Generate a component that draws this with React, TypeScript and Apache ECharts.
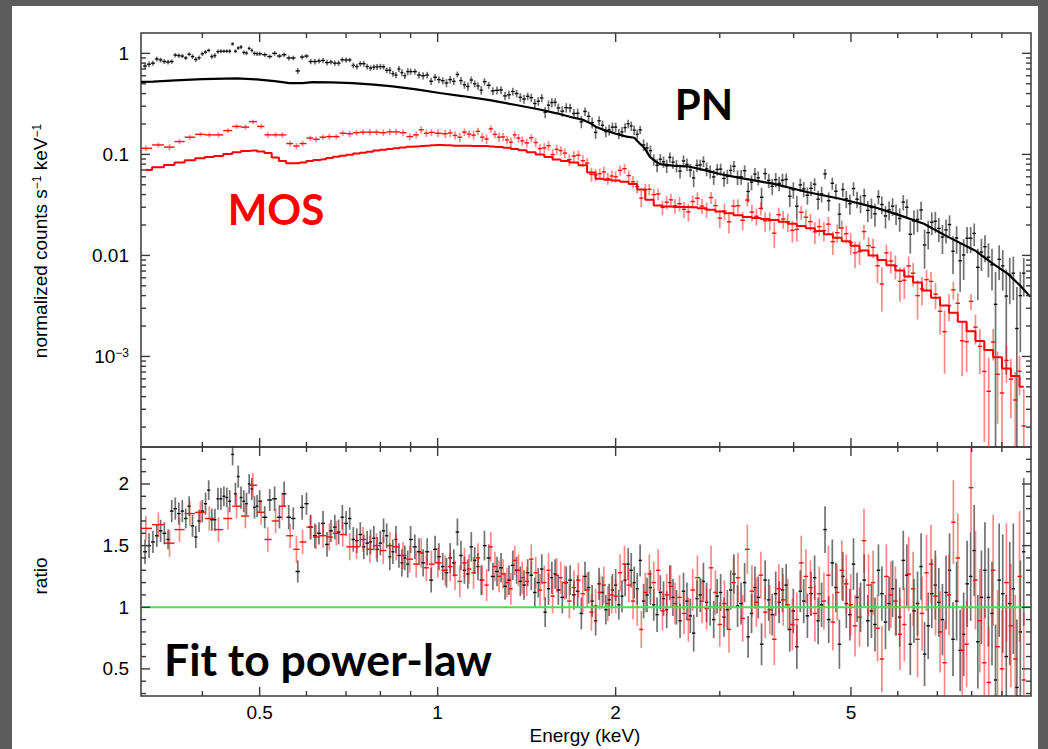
import React, { useEffect, useRef } from "react";
import * as echarts from "echarts";

// ---------- tick positions ----------
const energyTicksMajor = [0.5, 1, 2, 5];
const energyTicksMinor = [0.4, 0.6, 0.7, 0.8, 0.9, 3, 4, 6, 7, 8, 9];
const countTicksMajor = [0.001, 0.01, 0.1, 1];
const countTicksMinor = [
  0.0002, 0.0003, 0.0004, 0.0005, 0.0006, 0.0007, 0.0008, 0.0009,
  0.002, 0.003, 0.004, 0.005, 0.006, 0.007, 0.008, 0.009,
  0.02, 0.03, 0.04, 0.05, 0.06, 0.07, 0.08, 0.09,
  0.2, 0.3, 0.4, 0.5, 0.6, 0.7, 0.8, 0.9,
];
const ratioTicksMajor = [0.5, 1, 1.5, 2];
const ratioTicksMinor = [0.3, 0.4, 0.6, 0.7, 0.8, 0.9, 1.1, 1.2, 1.3, 1.4, 1.6, 1.7, 1.8, 1.9, 2.1, 2.2];

// ---------- PN (black) ----------
const pnEnergy = [
  0.32, 0.325, 0.33, 0.335, 0.34, 0.345, 0.35, 0.355, 0.36, 0.365, 0.37, 0.375, 0.38, 0.385, 0.39, 0.395, 0.40, 0.405, 0.41, 0.415,
  0.42, 0.425, 0.43, 0.435, 0.44, 0.445, 0.45, 0.455, 0.46, 0.465, 0.47, 0.475, 0.48, 0.485, 0.49, 0.495, 0.50,
  0.51, 0.52, 0.53, 0.54, 0.55, 0.56, 0.57, 0.58, 0.59, 0.60, 0.61, 0.62, 0.63, 0.64, 0.65, 0.66, 0.67, 0.68, 0.69, 0.70,
  0.71, 0.72, 0.73, 0.74, 0.75, 0.76, 0.77, 0.78, 0.79, 0.80, 0.81, 0.82, 0.83, 0.84, 0.85, 0.86, 0.87, 0.88, 0.89, 0.90,
  0.915, 0.93, 0.945, 0.96, 0.975, 0.99, 1.005,
  1.02, 1.035, 1.05, 1.065, 1.08, 1.095, 1.11, 1.125, 1.14, 1.155, 1.17, 1.185, 1.20, 1.22, 1.24, 1.26, 1.28, 1.30, 1.32, 1.34,
  1.36, 1.38, 1.40, 1.42, 1.44, 1.46, 1.48, 1.50,
  1.52, 1.54, 1.56, 1.58, 1.60, 1.625, 1.65, 1.675, 1.70, 1.725, 1.75, 1.775, 1.80, 1.825, 1.85, 1.875, 1.90, 1.925, 1.95, 1.975,
  2.00, 2.025, 2.05, 2.075, 2.10, 2.125, 2.15, 2.175, 2.20,
  2.23, 2.26, 2.29, 2.32, 2.35, 2.38, 2.41, 2.44, 2.47, 2.50, 2.535, 2.57, 2.605, 2.64, 2.675, 2.71, 2.745, 2.78, 2.815, 2.85,
  2.89, 2.93, 2.97, 3.01,
  3.05, 3.09, 3.13, 3.17, 3.215, 3.26, 3.305, 3.35, 3.395, 3.44, 3.485, 3.53, 3.58, 3.63, 3.68, 3.73, 3.78, 3.83, 3.885, 3.94,
  3.995, 4.05, 4.105, 4.16, 4.22, 4.28, 4.34, 4.40, 4.46, 4.52,
  4.585, 4.65, 4.715, 4.78, 4.845, 4.91, 4.98, 5.05, 5.12, 5.19, 5.265, 5.34, 5.415, 5.49, 5.565, 5.64, 5.72, 5.80, 5.88, 5.96,
  6.045, 6.13, 6.215, 6.30, 6.39, 6.48, 6.57, 6.66, 6.755, 6.85, 6.945, 7.04, 7.14, 7.24, 7.34, 7.44,
  7.545, 7.65, 7.755, 7.86, 7.97, 8.08, 8.195, 8.31, 8.425, 8.54,
  8.66, 8.78, 8.905, 9.03, 9.155, 9.28, 9.41, 9.54, 9.67, 9.80,
];
const pnFlux = [
  0.75, 0.78, 0.80, 0.88, 0.86, 0.83, 0.82, 0.83, 0.96, 0.95, 0.94, 0.90, 0.98, 0.93, 0.87, 0.905, 0.99, 1.03, 1.07, 0.93,
  0.95, 1.04, 1.05, 1.05, 1.05, 1.05, 1.24, 1.05, 1.13, 1.155, 1.02, 1.007, 1.12, 1.07, 1.00, 0.99, 0.99,
  0.97, 0.93, 1.00, 0.94, 0.97, 0.90, 0.90, 0.67, 0.92, 0.94, 0.83, 0.83, 0.84, 0.85, 0.81, 0.82, 0.80, 0.80, 0.865, 0.86,
  0.86, 0.76, 0.74, 0.79, 0.79, 0.74, 0.715, 0.73, 0.735, 0.74, 0.735, 0.68, 0.68, 0.63, 0.61, 0.70, 0.645, 0.60, 0.66, 0.66,
  0.66, 0.61, 0.60, 0.61, 0.53, 0.58, 0.55,
  0.536, 0.509, 0.550, 0.528, 0.618, 0.538, 0.488, 0.470, 0.545, 0.500, 0.476, 0.432, 0.525, 0.483, 0.425, 0.431, 0.434, 0.379, 0.389, 0.419,
  0.400, 0.367, 0.353, 0.376, 0.364, 0.319, 0.336, 0.362,
  0.261, 0.307, 0.326, 0.328, 0.288, 0.268, 0.290, 0.288, 0.254, 0.255, 0.210, 0.266, 0.238, 0.206, 0.165, 0.215, 0.194, 0.168, 0.175, 0.186,
  0.186, 0.160, 0.167, 0.184, 0.201, 0.191, 0.174, 0.158, 0.175,
  0.124, 0.116, 0.109, 0.0887, 0.0780, 0.0896, 0.0845, 0.0769, 0.0936, 0.0837, 0.0771, 0.0684, 0.0862, 0.0796, 0.0699, 0.0585, 0.0779, 0.0787, 0.0851, 0.0718,
  0.0676, 0.0599, 0.0709, 0.0715,
  0.0578, 0.0606, 0.0694, 0.0762, 0.0597, 0.0600, 0.0689, 0.0430, 0.0530, 0.0638, 0.0586, 0.0376, 0.0645, 0.0553, 0.0483, 0.0562, 0.0517, 0.0556, 0.0565, 0.0385,
  0.0447, 0.0307, 0.0499, 0.0455, 0.0394, 0.0461, 0.0507, 0.0360, 0.0406, 0.0641,
  0.0347, 0.0517, 0.0432, 0.0256, 0.0449, 0.0364, 0.0325, 0.0459, 0.0360, 0.0327, 0.0390, 0.0279, 0.0298, 0.0258, 0.0381, 0.0319, 0.0246, 0.0282, 0.0307, 0.0260,
  0.0232, 0.0337, 0.0300, 0.0162, 0.0219, 0.0227, 0.0282, 0.0127, 0.0168, 0.0213, 0.0218, 0.0185, 0.0152, 0.0179, 0.0202, 0.0110,
  0.0149, 0.00884, 0.0101, 0.0148, 0.0148, 0.0165, 0.00763, 0.0108, 0.0122, 0.00961,
  0.00808, 0.00328, 0.00915, 0.00788, 0.00396, 0.00639, 0.00667, 0.00189, 0.00400, 0.00667,
];
const pnRatio = [
  1.45, 1.50, 1.53, 1.58, 1.62, 1.60, 1.55, 1.78, 1.80, 1.76, 1.78, 1.72, 1.82, 1.66, 1.57, 1.70, 1.78, 1.84, 1.95, 1.71,
  1.71, 1.88, 1.88, 1.90, 1.89, 1.86, 2.24, 1.92, 2.06, 1.89, 1.86, 1.84, 2.00, 1.96, 1.81, 1.82, 1.86,
  1.73, 1.87, 1.88, 1.73, 1.92, 1.73, 1.72, 1.29, 1.81, 1.84, 1.65, 1.58, 1.60, 1.68, 1.51, 1.62, 1.65, 1.61, 1.73, 1.68,
  1.72, 1.55, 1.54, 1.59, 1.49, 1.52, 1.53, 1.56, 1.47, 1.52, 1.62, 1.58, 1.41, 1.45, 1.55, 1.42, 1.36, 1.40, 1.35, 1.55,
  1.49, 1.45, 1.36, 1.45, 1.22, 1.47, 1.41,
  1.33, 1.28, 1.40, 1.36, 1.61, 1.42, 1.30, 1.27, 1.49, 1.38, 1.33, 1.22, 1.50, 1.40, 1.25, 1.29, 1.32, 1.17, 1.22, 1.34,
  1.30, 1.21, 1.18, 1.28, 1.26, 1.12, 1.20, 1.31,
  0.96, 1.15, 1.24, 1.27, 1.14, 1.08, 1.20, 1.22, 1.10, 1.13, 0.95, 1.25, 1.16, 1.05, 0.89, 1.19, 1.12, 0.98, 1.06, 1.14,
  1.18, 1.02, 1.09, 1.22, 1.35, 1.30, 1.20, 1.15, 1.38,
  1.05, 1.10, 1.16, 1.02, 0.94, 1.12, 1.07, 0.98, 1.20, 1.08, 1.00, 0.89, 1.13, 1.05, 0.93, 0.79, 1.07, 1.10, 1.21, 1.04,
  1.00, 0.90, 1.09, 1.12,
  0.92, 0.98, 1.14, 1.27, 1.01, 1.03, 1.20, 0.76, 0.95, 1.16, 1.08, 0.70, 1.22, 1.06, 0.94, 1.11, 1.04, 1.14, 1.18, 0.82,
  0.97, 0.68, 1.13, 1.05, 0.93, 1.11, 1.24, 0.89, 1.02, 1.63,
  0.90, 1.36, 1.16, 0.70, 1.25, 1.03, 0.94, 1.35, 1.08, 1.00, 1.22, 0.89, 0.97, 0.86, 1.30, 1.11, 0.88, 1.03, 1.15, 1.00,
  0.92, 1.38, 1.26, 0.70, 0.97, 1.03, 1.33, 0.62, 0.85, 1.11, 1.18, 1.04, 0.90, 1.12, 1.30, 0.74,
  1.05, 0.65, 0.78, 1.19, 1.25, 1.46, 0.72, 1.08, 1.30, 1.08,
  0.95, 0.41, 1.22, 1.11, 0.60, 1.03, 1.15, 0.35, 0.80, 1.45,
];
const pnRatioErr = [
  0.10, 0.10, 0.09, 0.09, 0.09, 0.09, 0.08, 0.09, 0.09, 0.09, 0.09, 0.08, 0.08, 0.09, 0.09, 0.09, 0.09, 0.09, 0.08, 0.09,
  0.09, 0.09, 0.09, 0.08, 0.08, 0.09, 0.09, 0.09, 0.09, 0.09, 0.09, 0.09, 0.08, 0.09, 0.09, 0.09, 0.09,
  0.09, 0.09, 0.10, 0.09, 0.10, 0.10, 0.09, 0.09, 0.10, 0.09, 0.10, 0.10, 0.09, 0.10, 0.10, 0.09, 0.10, 0.10, 0.10, 0.10,
  0.09, 0.10, 0.10, 0.10, 0.10, 0.10, 0.10, 0.10, 0.10, 0.10,
  0.10, 0.10, 0.11, 0.10, 0.11, 0.10, 0.11, 0.10, 0.11, 0.11, 0.10, 0.11, 0.11, 0.11, 0.10, 0.11, 0.11,
  0.11, 0.12, 0.12, 0.11, 0.11, 0.12, 0.11, 0.12, 0.12, 0.11, 0.11, 0.12, 0.12, 0.11, 0.11, 0.12, 0.12, 0.11, 0.12, 0.12,
  0.11, 0.12, 0.12, 0.11, 0.12, 0.12, 0.12, 0.12,
  0.12, 0.13, 0.13, 0.12, 0.12, 0.13, 0.13, 0.12, 0.12, 0.13, 0.13, 0.12, 0.13, 0.13, 0.12, 0.13, 0.13, 0.12, 0.13, 0.13,
  0.13, 0.12, 0.13, 0.13, 0.13, 0.14, 0.13, 0.13, 0.13,
  0.14, 0.14, 0.14, 0.13, 0.14, 0.14, 0.14, 0.15, 0.14, 0.15, 0.14, 0.14, 0.15, 0.15, 0.14, 0.15, 0.15, 0.14, 0.15, 0.16,
  0.15, 0.15, 0.14, 0.15,
  0.16, 0.16, 0.16, 0.16, 0.17, 0.17, 0.16, 0.17, 0.16, 0.17, 0.17, 0.17, 0.16, 0.17, 0.17, 0.18, 0.17, 0.18, 0.17, 0.18,
  0.18, 0.18, 0.17, 0.18, 0.18, 0.18, 0.18, 0.19, 0.18, 0.19,
  0.19, 0.19, 0.20, 0.20, 0.20, 0.20, 0.21, 0.21, 0.20, 0.20, 0.21, 0.21, 0.22, 0.22, 0.21, 0.22, 0.22, 0.22, 0.23, 0.23,
  0.24, 0.24, 0.25, 0.25, 0.26, 0.26, 0.27, 0.26, 0.27, 0.28, 0.28, 0.28, 0.29, 0.30, 0.30, 0.30,
  0.32, 0.33, 0.34, 0.35, 0.36, 0.37, 0.38, 0.38, 0.39, 0.40,
  0.42, 0.45, 0.46, 0.48, 0.50, 0.50, 0.53, 0.55, 0.58, 0.60,
];
const pnModelEnergy = [
  0.315, 0.33, 0.36, 0.40, 0.457, 0.494, 0.53, 0.562, 0.59, 0.615, 0.66, 0.718, 0.78, 0.839, 0.92,
  1.008, 1.1, 1.225, 1.35, 1.488, 1.59, 1.692, 1.76, 1.808, 1.85, 1.902, 2.0, 2.088, 2.15, 2.197,
  2.24, 2.284, 2.33, 2.375, 2.5, 2.669, 2.85, 3.0, 3.243, 3.69, 4.211, 4.79, 5.467, 6.05, 6.643,
  7.23, 8.102, 8.7, 9.215, 9.66, 10.05,
];
const pnModel = [
  0.521, 0.525, 0.54, 0.555, 0.565, 0.552, 0.53, 0.507, 0.508, 0.519, 0.515, 0.507, 0.49, 0.471, 0.44,
  0.405, 0.378, 0.344, 0.31, 0.278, 0.255, 0.232, 0.22, 0.205, 0.188, 0.176, 0.160, 0.150, 0.146, 0.128,
  0.115, 0.095, 0.086, 0.080, 0.0775, 0.0755, 0.069, 0.064, 0.0585, 0.0513, 0.0424, 0.0364, 0.0301, 0.0249, 0.0206,
  0.0157, 0.0112, 0.00826, 0.00656, 0.00503, 0.00391,
];

// ---------- MOS (red) ----------
const mosEnergy = [
  0.321, 0.337, 0.352, 0.366, 0.381, 0.397, 0.411, 0.426, 0.442, 0.457, 0.473, 0.487, 0.503, 0.516, 0.532, 0.546,
  0.563, 0.577, 0.591, 0.609, 0.623, 0.640, 0.656, 0.674, 0.691, 0.710, 0.729, 0.748, 0.768, 0.788, 0.809, 0.830,
  0.851, 0.874, 0.897, 0.920, 0.938, 0.957, 0.976, 1.001,
  1.03, 1.05, 1.07, 1.09, 1.11, 1.13, 1.15, 1.17, 1.19, 1.21, 1.23, 1.25, 1.27, 1.29, 1.31, 1.33, 1.35, 1.37, 1.39, 1.415,
  1.44, 1.465, 1.49,
  1.515, 1.54, 1.565, 1.59, 1.615, 1.64, 1.67, 1.70, 1.73, 1.76, 1.79, 1.82, 1.85, 1.88, 1.91, 1.94, 1.97, 2.00, 2.035, 2.07,
  2.105, 2.14, 2.175, 2.21,
  2.245, 2.28, 2.32, 2.36, 2.40, 2.44, 2.48, 2.52, 2.565, 2.61, 2.655, 2.70, 2.75, 2.80, 2.85, 2.90, 2.95, 3.00,
  3.055, 3.11, 3.165, 3.22, 3.28, 3.34, 3.40, 3.46, 3.52, 3.58, 3.645, 3.71, 3.775, 3.84, 3.91, 3.98,
  4.05, 4.12, 4.195, 4.27, 4.345, 4.42, 4.50, 4.58, 4.66, 4.74, 4.825, 4.91,
  4.995, 5.08, 5.17, 5.26, 5.355, 5.45, 5.545, 5.64, 5.74, 5.84,
  5.945, 6.05, 6.155, 6.26, 6.37, 6.48, 6.595, 6.71, 6.83, 6.95,
  7.075, 7.20, 7.325, 7.45, 7.58, 7.71, 7.845, 7.98,
  8.12, 8.26, 8.405, 8.55, 8.70, 8.85, 9.005, 9.16, 9.32, 9.48, 9.64, 9.80,
];
const mosFlux = [
  0.115, 0.124, 0.118, 0.134, 0.148, 0.158, 0.156, 0.156, 0.172, 0.189, 0.186, 0.211, 0.189, 0.156, 0.156, 0.156,
  0.128, 0.121, 0.128, 0.145, 0.141, 0.148, 0.150, 0.150, 0.162, 0.160, 0.164, 0.166, 0.166, 0.166, 0.164, 0.167,
  0.167, 0.164, 0.150, 0.156, 0.175, 0.162, 0.165, 0.162,
  0.160, 0.163, 0.154, 0.148, 0.166, 0.159, 0.155, 0.169, 0.148, 0.142, 0.179, 0.158, 0.148, 0.149, 0.139, 0.132, 0.156, 0.145, 0.136, 0.130,
  0.146, 0.131, 0.114,
  0.116, 0.122, 0.0997, 0.112, 0.109, 0.103, 0.0887, 0.0963, 0.0982, 0.0866, 0.0821, 0.0634, 0.0626, 0.0644, 0.0670, 0.0577, 0.0611, 0.0600, 0.0695, 0.0722,
  0.0617, 0.0536, 0.0480, 0.0369,
  0.0448, 0.0451, 0.0400, 0.0406, 0.0299, 0.0336, 0.0355, 0.0310, 0.0325, 0.0286, 0.0270, 0.0342, 0.0368, 0.0308, 0.0285, 0.0374, 0.0311, 0.0234,
  0.0275, 0.0215, 0.0307, 0.0310, 0.0223, 0.0353, 0.0268, 0.0244, 0.0292, 0.0220, 0.0221, 0.0166, 0.0253, 0.0229, 0.0215, 0.0177,
  0.0181, 0.0267, 0.0239, 0.0216, 0.0171, 0.0193, 0.0176, 0.0204, 0.0137, 0.0168, 0.0187, 0.0164,
  0.0134, 0.0106, 0.0109, 0.0172, 0.0125, 0.0120, 0.00789, 0.00522, 0.0106, 0.00880,
  0.00788, 0.00554, 0.00568, 0.00787, 0.00667, 0.00400, 0.00466, 0.00576, 0.00554, 0.00414,
  0.00280, 0.00176, 0.00319, 0.00456, 0.00336, 0.00143, 0.00140, 0.00351,
  0.00195, 0.00126, 0.000710, 0.000452, 0.00139, 0.000666, 0.000435, 0.000912, 0.000595, 0.000371, 0.000713, 0.000205,
];
const mosRatio = [
  1.64, 1.67, 1.52, 1.63, 1.76, 1.77, 1.72, 1.63, 1.72, 1.82, 1.74, 1.99, 1.77, 1.55, 1.70, 1.82,
  1.58, 1.47, 1.53, 1.65, 1.57, 1.58, 1.57, 1.60, 1.59, 1.49, 1.49, 1.55, 1.47, 1.50, 1.46, 1.50,
  1.49, 1.42, 1.39, 1.35, 1.44, 1.32, 1.35, 1.36,
  1.30, 1.33, 1.26, 1.21, 1.36, 1.31, 1.28, 1.40, 1.22, 1.18, 1.49, 1.33, 1.25, 1.27, 1.20, 1.15, 1.38, 1.30, 1.24, 1.21,
  1.39, 1.28, 1.14,
  1.20, 1.30, 1.09, 1.26, 1.24, 1.20, 1.05, 1.16, 1.22, 1.11, 1.14, 0.96, 1.01, 1.12, 1.18, 1.03, 1.10, 1.09, 1.28, 1.35,
  1.18, 1.05, 1.00, 0.82,
  1.12, 1.27, 1.20, 1.30, 0.97, 1.10, 1.17, 1.03, 1.08, 0.95, 0.90, 1.14, 1.24, 1.05, 0.99, 1.32, 1.12, 0.86,
  1.03, 0.82, 1.20, 1.24, 0.91, 1.47, 1.13, 1.04, 1.26, 0.96, 0.98, 0.74, 1.15, 1.06, 1.02, 0.86,
  0.90, 1.36, 1.25, 1.16, 0.95, 1.11, 1.05, 1.26, 0.88, 1.12, 1.30, 1.19,
  1.02, 0.85, 0.92, 1.54, 1.18, 1.20, 0.83, 0.58, 1.25, 1.10,
  1.05, 0.78, 0.86, 1.27, 1.15, 0.74, 0.95, 1.28, 1.35, 1.09,
  0.80, 0.55, 1.10, 1.69, 1.40, 0.65, 0.70, 1.97,
  1.22, 0.89, 0.55, 0.39, 1.30, 0.68, 0.50, 1.20, 0.85, 0.58, 1.25, 0.41,
];
const mosRatioErr = [
  0.10, 0.10, 0.11, 0.10, 0.10, 0.09, 0.10, 0.10, 0.09, 0.10, 0.10, 0.10, 0.10, 0.10, 0.10, 0.11,
  0.10, 0.11, 0.10, 0.10, 0.10, 0.10, 0.11, 0.10, 0.10, 0.11, 0.10, 0.10, 0.11, 0.10, 0.11, 0.11,
  0.11, 0.11, 0.11, 0.11, 0.12, 0.11, 0.11, 0.12,
  0.12, 0.12, 0.12, 0.13, 0.12, 0.12, 0.13, 0.12, 0.12, 0.13, 0.12, 0.12, 0.13, 0.12, 0.12, 0.13, 0.12, 0.13, 0.13, 0.12,
  0.12, 0.13, 0.13,
  0.14, 0.14, 0.14, 0.14, 0.13, 0.14, 0.14, 0.14, 0.14, 0.15, 0.14, 0.15, 0.14, 0.14, 0.15, 0.14, 0.15, 0.14, 0.15, 0.15,
  0.14, 0.15, 0.15, 0.15,
  0.16, 0.16, 0.17, 0.17, 0.16, 0.17, 0.17, 0.17, 0.18, 0.17, 0.18, 0.17, 0.18, 0.18, 0.17, 0.18, 0.18, 0.18,
  0.19, 0.19, 0.20, 0.20, 0.19, 0.20, 0.21, 0.20, 0.19, 0.21, 0.20, 0.21, 0.20, 0.21, 0.21, 0.21,
  0.22, 0.22, 0.22, 0.22, 0.23, 0.22, 0.23, 0.24, 0.23, 0.23, 0.24, 0.24,
  0.25, 0.25, 0.24, 0.26, 0.25, 0.26, 0.27, 0.27, 0.26, 0.27,
  0.28, 0.29, 0.30, 0.30, 0.30, 0.31, 0.30, 0.31, 0.32, 0.32,
  0.33, 0.34, 0.33, 0.34, 0.36, 0.36, 0.35, 0.36,
  0.40, 0.42, 0.44, 0.45, 0.45, 0.46, 0.48, 0.48, 0.50, 0.52, 0.53, 0.55,
];
const mosModelEnergy = [
  0.321, 0.337, 0.352, 0.366, 0.381, 0.397, 0.411, 0.426, 0.442, 0.457, 0.473, 0.487, 0.503, 0.516, 0.532, 0.546,
  0.563, 0.577, 0.591, 0.609, 0.623, 0.640, 0.656, 0.674, 0.691, 0.710, 0.729, 0.748, 0.768, 0.788, 0.809, 0.830,
  0.851, 0.874, 0.897, 0.920, 0.938, 0.957, 0.976, 1.001,
  1.03, 1.07, 1.11, 1.15, 1.19, 1.23, 1.27, 1.31, 1.35, 1.39, 1.44, 1.49,
  1.54, 1.59, 1.64, 1.70, 1.76, 1.82, 1.88, 1.94, 2.00, 2.07, 2.14, 2.21,
  2.28, 2.36, 2.44, 2.52, 2.61, 2.70, 2.80, 2.90, 3.00,
  3.11, 3.22, 3.34, 3.46, 3.58, 3.71, 3.84, 3.98,
  4.12, 4.27, 4.42, 4.58, 4.74, 4.91,
  5.08, 5.26, 5.45, 5.64, 5.84,
  6.05, 6.26, 6.48, 6.71, 6.95,
  7.20, 7.45, 7.71, 7.98,
  8.26, 8.55, 8.85, 9.16, 9.48, 9.80,
];
const mosModel = [
  0.070, 0.0745, 0.0785, 0.083, 0.0874, 0.0915, 0.094, 0.0964, 0.101, 0.105, 0.108, 0.109, 0.107, 0.103, 0.093, 0.086,
  0.0816, 0.0816, 0.083, 0.086, 0.088, 0.0894, 0.092, 0.095, 0.097, 0.099, 0.102, 0.104, 0.106, 0.109, 0.111, 0.113,
  0.115, 0.117, 0.119, 0.120, 0.121, 0.122, 0.123, 0.124,
  0.123, 0.122, 0.122, 0.121, 0.121, 0.120, 0.118, 0.116, 0.113, 0.110, 0.105, 0.100,
  0.094, 0.089, 0.086, 0.083, 0.078, 0.066, 0.0575, 0.056, 0.055, 0.0535, 0.051, 0.045,
  0.0355, 0.0312, 0.0305, 0.0301, 0.0301, 0.0300, 0.0293, 0.0283, 0.0272,
  0.0262, 0.0250, 0.0240, 0.0235, 0.0229, 0.0224, 0.0216, 0.0206,
  0.0196, 0.0186, 0.0174, 0.0162, 0.0150, 0.0138,
  0.0125, 0.0112, 0.0100, 0.0090, 0.0080,
  0.0071, 0.0062, 0.0054, 0.0045, 0.0038,
  0.0032, 0.0027, 0.0022, 0.00178,
  0.00142, 0.00116, 0.00098, 0.00076, 0.00064, 0.00050,
];
const unityLine = [[0.315, 1], [10.08, 1]];

// ---------- helpers ----------
const FONT = '"Liberation Sans", Arial, Helvetica, sans-serif';
const BOLD_FONT = 'Lato, "Open Sans", "Noto Sans", sans-serif';
const FRAME = "#3a3a3a";
const X_MIN = 0.315;
const X_MAX = 10.08;

function binEdges(E: number[]) {
  return E.map((e, i) => {
    const prev = i > 0 ? E[i - 1] : (e * e) / E[i + 1];
    const next = i < E.length - 1 ? E[i + 1] : (e * e) / E[i - 1];
    return [Math.sqrt(prev * e), Math.sqrt(e * next)];
  });
}

function fluxItems(E: number[], F: number[], R: number[], RE: number[]) {
  const ed = binEdges(E);
  return E.map((e, i) => {
    const rel = RE[i] / R[i];
    return [e, F[i], Math.max(F[i] * (1 - rel), 1e-6), F[i] * (1 + rel), ed[i][0], ed[i][1]];
  });
}
function ratioItems(E: number[], R: number[], RE: number[]) {
  const ed = binEdges(E);
  return E.map((e, i) => [e, R[i], R[i] - RE[i], R[i] + RE[i], ed[i][0], ed[i][1]]);
}

function errorBars(hColor: string, vColor: string) {
  return (params: any, api: any) => {
    const x = api.value(0), y = api.value(1);
    const lo = api.value(2), hi = api.value(3), xl = api.value(4), xh = api.value(5);
    const pl = api.coord([xl, y]);
    const pr = api.coord([xh, y]);
    const pt = api.coord([x, hi]);
    const pb = api.coord([x, lo]);
    return {
      type: "group",
      children: [
        { type: "line", shape: { x1: pt[0], y1: pt[1], x2: pb[0], y2: pb[1] }, style: { stroke: vColor, lineWidth: 1.7 } },
        { type: "line", shape: { x1: pl[0], y1: pl[1], x2: pr[0], y2: pr[1] }, style: { stroke: hColor, lineWidth: 1.4 } },
      ],
    };
  };
}

function tickData(xMaj: number[], xMin: number[], yMaj: number[], yMin: number[]) {
  const d: number[][] = [];
  xMaj.forEach((v) => d.push([v, 1, 0, 1]));
  xMin.forEach((v) => d.push([v, 1, 0, 0]));
  yMaj.forEach((v) => d.push([1, v, 1, 1]));
  yMin.forEach((v) => d.push([1, v, 1, 0]));
  return d;
}

function tickRenderer(withLabels: boolean) {
  return (params: any, api: any) => {
    const cs = params.coordSys;
    const kind = api.value(2);
    const major = api.value(3) === 1;
    const len = major ? 9 : 5;
    const st = { stroke: FRAME, lineWidth: 1.4 };
    const children: any[] = [];
    if (kind === 0) {
      const v = api.value(0);
      const px = api.coord([v, api.value(1)])[0];
      children.push({ type: "line", shape: { x1: px, y1: cs.y, x2: px, y2: cs.y + len }, style: st });
      children.push({ type: "line", shape: { x1: px, y1: cs.y + cs.height, x2: px, y2: cs.y + cs.height - len }, style: st });
      if (withLabels && major) {
        children.push({
          type: "text",
          x: px,
          y: cs.y + cs.height + 7,
          style: { text: String(v), fontSize: 19, fontFamily: FONT, fill: "#000", align: "center", verticalAlign: "top" },
        });
      }
    } else {
      const py = api.coord([api.value(0), api.value(1)])[1];
      children.push({ type: "line", shape: { x1: cs.x, y1: py, x2: cs.x + len, y2: py }, style: st });
      children.push({ type: "line", shape: { x1: cs.x + cs.width, y1: py, x2: cs.x + cs.width - len, y2: py }, style: st });
    }
    return { type: "group", children };
  };
}

function logLabel(v: number) {
  const l = Math.log10(v);
  const r = Math.round(l);
  if (Math.abs(l - r) > 1e-6) return "";
  if (r === 0) return "1";
  if (r === -1) return "0.1";
  if (r === -2) return "0.01";
  return "{a|10}{b|\u2212" + String(-r) + "}";
}
function ratioLabel(v: number) {
  const k = Math.round(v * 2);
  if (Math.abs(v * 2 - k) > 1e-6) return "";
  return String(v);
}

const hiddenAxis = {
  axisLine: { show: false },
  axisTick: { show: false },
  splitLine: { show: false },
};

const BLACK_H = "rgba(0,0,0,0.92)";
const BLACK_V = "rgba(20,20,20,0.6)";
const RED_H = "rgba(255,0,0,0.95)";
const RED_V = "rgba(255,20,20,0.5)";

function buildOption() {
  return {
    animation: false,
    backgroundColor: "#ffffff",
    grid: [
      { left: 141, top: 33, width: 890, height: 414, show: true, borderColor: FRAME, borderWidth: 1.5, backgroundColor: "transparent" },
      { left: 141, top: 447, width: 890, height: 249, show: true, borderColor: FRAME, borderWidth: 1.5, backgroundColor: "transparent" },
    ],
    xAxis: [
      { type: "log", logBase: 10, gridIndex: 0, min: X_MIN, max: X_MAX, ...hiddenAxis, axisLabel: { show: false } },
      { type: "log", logBase: 10, gridIndex: 1, min: X_MIN, max: X_MAX, ...hiddenAxis, axisLabel: { show: false } },
    ],
    yAxis: [
      {
        type: "log",
        logBase: 10,
        gridIndex: 0,
        min: 1.27e-4,
        max: 1.59,
        ...hiddenAxis,
        axisLabel: {
          margin: 12,
          fontSize: 19,
          fontFamily: FONT,
          color: "#000",
          formatter: logLabel,
          rich: {
            a: { fontSize: 19, fontFamily: FONT, color: "#000" },
            b: { fontSize: 12, fontFamily: FONT, color: "#000", verticalAlign: "top" },
          },
        },
      },
      {
        type: "value",
        gridIndex: 1,
        min: 0.28,
        max: 2.3,
        ...hiddenAxis,
        axisLabel: { margin: 12, fontSize: 19, fontFamily: FONT, color: "#000", formatter: ratioLabel },
      },
    ],
    graphic: {
      elements: [
        { type: "rect", shape: { x: 0, y: 0, width: 1048, height: 6 }, style: { fill: "#5c5c5c" }, silent: true },
        { type: "rect", shape: { x: 0, y: 0, width: 12, height: 749 }, style: { fill: "#5c5c5c" }, silent: true },
        { type: "rect", shape: { x: 1038, y: 0, width: 10, height: 749 }, style: { fill: "#5c5c5c" }, silent: true },
        {
          type: "text",
          x: 40,
          y: 241,
          rotation: Math.PI / 2,
          silent: true,
          style: {
            text: "{n|normalized counts s}{s|\u22121}{n| keV}{s|\u22121}",
            align: "center",
            verticalAlign: "middle",
            rich: {
              n: { fontSize: 19, fontFamily: FONT, fill: "#000", color: "#000" },
              s: { fontSize: 12, fontFamily: FONT, fill: "#000", color: "#000", verticalAlign: "top" },
            },
          },
        },
        {
          type: "text",
          x: 40,
          y: 576,
          rotation: Math.PI / 2,
          silent: true,
          style: { text: "ratio", fontSize: 19, fontFamily: FONT, fill: "#000", align: "center", verticalAlign: "middle" },
        },
        {
          type: "text",
          x: 585,
          y: 735,
          silent: true,
          style: { text: "Energy (keV)", fontSize: 19, fontFamily: FONT, fill: "#000", align: "center", verticalAlign: "middle" },
        },
        {
          type: "text",
          x: 704,
          y: 104,
          silent: true,
          style: { text: "PN", fontSize: 42, fontWeight: "bold", fontFamily: BOLD_FONT, fill: "#000", align: "center", verticalAlign: "middle" },
        },
        {
          type: "text",
          x: 276,
          y: 209,
          silent: true,
          style: { text: "MOS", fontSize: 42, fontWeight: "bold", fontFamily: BOLD_FONT, fill: "#ff0000", align: "center", verticalAlign: "middle" },
        },
        {
          type: "text",
          x: 164,
          y: 658,
          silent: true,
          style: { text: "Fit to power-law", fontSize: 44.5, fontWeight: "bold", fontFamily: BOLD_FONT, fill: "#000", align: "left", verticalAlign: "middle" },
        },
      ],
    },
    series: [
      {
        type: "custom",
        name: "PN data",
        xAxisIndex: 0,
        yAxisIndex: 0,
        clip: true,
        silent: true,
        z: 3,
        encode: { x: 0, y: 1 },
        renderItem: errorBars(BLACK_H, BLACK_V),
        data: fluxItems(pnEnergy, pnFlux, pnRatio, pnRatioErr),
      },
      {
        type: "custom",
        name: "MOS data",
        xAxisIndex: 0,
        yAxisIndex: 0,
        clip: true,
        silent: true,
        z: 3,
        encode: { x: 0, y: 1 },
        renderItem: errorBars(RED_H, RED_V),
        data: fluxItems(mosEnergy, mosFlux, mosRatio, mosRatioErr),
      },
      {
        type: "line",
        name: "PN model",
        xAxisIndex: 0,
        yAxisIndex: 0,
        showSymbol: false,
        silent: true,
        z: 5,
        lineStyle: { color: "#000", width: 2.2 },
        data: pnModelEnergy.map((e, i) => [e, pnModel[i]]),
      },
      {
        type: "line",
        name: "MOS model",
        xAxisIndex: 0,
        yAxisIndex: 0,
        showSymbol: false,
        silent: true,
        step: "middle",
        z: 5,
        lineStyle: { color: "#ff0000", width: 2 },
        data: mosModelEnergy.map((e, i) => [e, mosModel[i]]),
      },
      {
        type: "custom",
        name: "PN ratio",
        xAxisIndex: 1,
        yAxisIndex: 1,
        clip: true,
        silent: true,
        z: 3,
        encode: { x: 0, y: 1 },
        renderItem: errorBars(BLACK_H, BLACK_V),
        data: ratioItems(pnEnergy, pnRatio, pnRatioErr),
      },
      {
        type: "custom",
        name: "MOS ratio",
        xAxisIndex: 1,
        yAxisIndex: 1,
        clip: true,
        silent: true,
        z: 3,
        encode: { x: 0, y: 1 },
        renderItem: errorBars(RED_H, RED_V),
        data: ratioItems(mosEnergy, mosRatio, mosRatioErr),
      },
      {
        type: "line",
        name: "unity",
        xAxisIndex: 1,
        yAxisIndex: 1,
        showSymbol: false,
        silent: true,
        z: 6,
        lineStyle: { color: "#4be04b", width: 2 },
        data: unityLine,
      },
      {
        type: "custom",
        name: "ticks top",
        xAxisIndex: 0,
        yAxisIndex: 0,
        silent: true,
        z: 7,
        encode: { x: 0, y: 1 },
        renderItem: tickRenderer(false),
        data: tickData(energyTicksMajor, energyTicksMinor, countTicksMajor, countTicksMinor),
      },
      {
        type: "custom",
        name: "ticks bottom",
        xAxisIndex: 1,
        yAxisIndex: 1,
        silent: true,
        z: 7,
        encode: { x: 0, y: 1 },
        renderItem: tickRenderer(true),
        data: tickData(energyTicksMajor, energyTicksMinor, ratioTicksMajor, ratioTicksMinor),
      },
    ],
  };
}

export default function App() {
  const ref = useRef<HTMLDivElement>(null);
  useEffect(() => {
    if (!ref.current) return;
    const chart = echarts.init(ref.current, undefined, { renderer: "svg" });
    chart.setOption(buildOption() as any);
    return () => chart.dispose();
  }, []);
  return (
    <div
      ref={ref}
      style={{ position: "fixed", left: 0, top: 0, width: 1048, height: 749, background: "#fff" }}
    />
  );
}
